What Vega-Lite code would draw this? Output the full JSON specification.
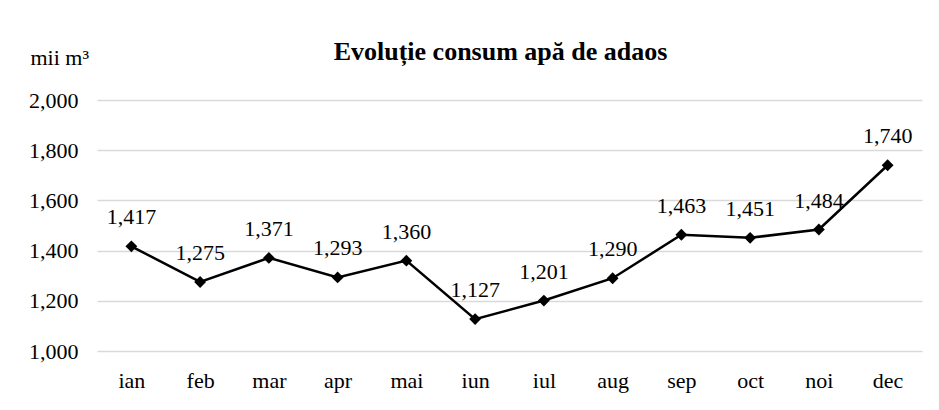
{
  "$schema": "https://vega.github.io/schema/vega-lite/v6.json",
  "width": 825,
  "height": 251,
  "autosize": "none",
  "padding": {"left": 97, "top": 100, "right": 17, "bottom": 59},
  "background": "white",
  "config": {"view": {"stroke": null}, "font": "Liberation Serif"},
  "title": {
    "text": "Evoluție consum apă de adaos",
    "font": "Liberation Serif",
    "fontSize": 26,
    "fontWeight": "bold",
    "color": "black",
    "anchor": "middle",
    "frame": "group",
    "baseline": "alphabetic",
    "offset": 0,
    "dy": 40,
    "dx": -9
  },
  "data": {
    "values": [
      {"luna": "ian", "valoare": 1417},
      {"luna": "feb", "valoare": 1275},
      {"luna": "mar", "valoare": 1371},
      {"luna": "apr", "valoare": 1293},
      {"luna": "mai", "valoare": 1360},
      {"luna": "iun", "valoare": 1127},
      {"luna": "iul", "valoare": 1201},
      {"luna": "aug", "valoare": 1290},
      {"luna": "sep", "valoare": 1463},
      {"luna": "oct", "valoare": 1451},
      {"luna": "noi", "valoare": 1484},
      {"luna": "dec", "valoare": 1740}
    ]
  },
  "encoding": {
    "x": {
      "field": "luna",
      "type": "ordinal",
      "sort": null,
      "scale": {"type": "point", "padding": 0.5},
      "axis": {
        "title": null,
        "labelAngle": 0,
        "labelFont": "Liberation Serif",
        "labelFontSize": 22,
        "labelColor": "black",
        "labelBaseline": "alphabetic",
        "labelPadding": 36,
        "ticks": false,
        "tickSize": 0,
        "domain": false,
        "grid": false
      }
    },
    "y": {
      "field": "valoare",
      "type": "quantitative",
      "scale": {"domain": [1000, 2000], "nice": false, "zero": false},
      "axis": {
        "title": "mii m³",
        "titleAngle": 0,
        "titleAlign": "left",
        "titleBaseline": "alphabetic",
        "titleX": -67,
        "titleY": -36,
        "titleFont": "Liberation Serif",
        "titleFontSize": 22,
        "titleFontWeight": "normal",
        "titleColor": "black",
        "values": [1000, 1200, 1400, 1600, 1800, 2000],
        "format": ",d",
        "labelFont": "Liberation Serif",
        "labelFontSize": 22,
        "labelColor": "black",
        "labelPadding": 19,
        "ticks": false,
        "tickSize": 0,
        "domain": false,
        "grid": true,
        "gridColor": "#d9d9d9",
        "gridWidth": 1.5
      }
    }
  },
  "layer": [
    {"mark": {"type": "line", "color": "black", "strokeWidth": 2.5}},
    {"mark": {"type": "point", "shape": "diamond", "filled": true, "color": "black", "size": 140, "opacity": 1}},
    {
      "mark": {"type": "text", "baseline": "alphabetic", "dy": -22, "font": "Liberation Serif", "fontSize": 22, "color": "black"},
      "encoding": {"text": {"field": "valoare", "type": "quantitative", "format": ",d"}}
    }
  ]
}
